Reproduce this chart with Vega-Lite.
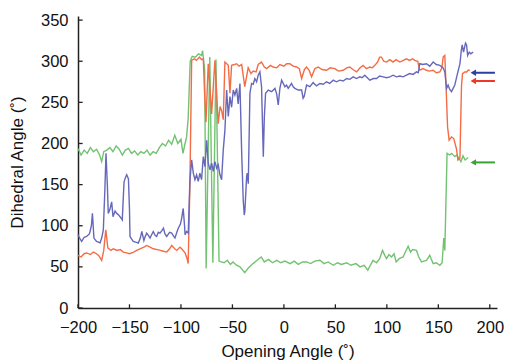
{
  "$schema": "https://vega.github.io/schema/vega-lite/v6.json",
  "width": 419,
  "height": 292,
  "autosize": "none",
  "padding": {"left": 78, "top": 16, "right": 8, "bottom": 52},
  "background": "white",
  "config": {
    "view": {"stroke": null},
    "font": "Liberation Sans",
    "axis": {
      "grid": false,
      "ticks": false,
      "labelFlush": false,
      "domainColor": "#222222",
      "domainWidth": 1.5,
      "labelFontSize": 16.5,
      "labelColor": "#111111",
      "titleFontSize": 17,
      "titleFontWeight": "normal",
      "titleColor": "#111111"
    }
  },
  "datasets": {
    "lines": [
      {"s": "green", "x": -200, "y": 194}, {"s": "green", "x": -197, "y": 186}, {"s": "green", "x": -194, "y": 192}, {"s": "green", "x": -191, "y": 188}, {"s": "green", "x": -188, "y": 195}, {"s": "green", "x": -185, "y": 190}, {"s": "green", "x": -182, "y": 193}, {"s": "green", "x": -179, "y": 186}, {"s": "green", "x": -177, "y": 178}, {"s": "green", "x": -175, "y": 190}, {"s": "green", "x": -172, "y": 192}, {"s": "green", "x": -169, "y": 195}, {"s": "green", "x": -166, "y": 190}, {"s": "green", "x": -163, "y": 197}, {"s": "green", "x": -160, "y": 193}, {"s": "green", "x": -157, "y": 186}, {"s": "green", "x": -154, "y": 192}, {"s": "green", "x": -151, "y": 194}, {"s": "green", "x": -148, "y": 188}, {"s": "green", "x": -145, "y": 191}, {"s": "green", "x": -142, "y": 186}, {"s": "green", "x": -139, "y": 190}, {"s": "green", "x": -136, "y": 188}, {"s": "green", "x": -133, "y": 192}, {"s": "green", "x": -130, "y": 186}, {"s": "green", "x": -127, "y": 190}, {"s": "green", "x": -124, "y": 188}, {"s": "green", "x": -121, "y": 195}, {"s": "green", "x": -118, "y": 200}, {"s": "green", "x": -115, "y": 197}, {"s": "green", "x": -112, "y": 204}, {"s": "green", "x": -109, "y": 199}, {"s": "green", "x": -106, "y": 210}, {"s": "green", "x": -103, "y": 200}, {"s": "green", "x": -100, "y": 205}, {"s": "green", "x": -98, "y": 188}, {"s": "green", "x": -96, "y": 200}, {"s": "green", "x": -94.5, "y": 208}, {"s": "green", "x": -93, "y": 230}, {"s": "green", "x": -91, "y": 300}, {"s": "green", "x": -89, "y": 306}, {"s": "green", "x": -86, "y": 305}, {"s": "green", "x": -83, "y": 309}, {"s": "green", "x": -80, "y": 307}, {"s": "green", "x": -79, "y": 313}, {"s": "green", "x": -77, "y": 290}, {"s": "green", "x": -75.5, "y": 48}, {"s": "green", "x": -72, "y": 305}, {"s": "green", "x": -69, "y": 55}, {"s": "green", "x": -66, "y": 302}, {"s": "green", "x": -63, "y": 57}, {"s": "green", "x": -61, "y": 56}, {"s": "green", "x": -58, "y": 55}, {"s": "green", "x": -55, "y": 58}, {"s": "green", "x": -52, "y": 53}, {"s": "green", "x": -49.5, "y": 56}, {"s": "green", "x": -46, "y": 52}, {"s": "green", "x": -42.7, "y": 50}, {"s": "green", "x": -38, "y": 43}, {"s": "green", "x": -35, "y": 48}, {"s": "green", "x": -30, "y": 54}, {"s": "green", "x": -26, "y": 58}, {"s": "green", "x": -22, "y": 62}, {"s": "green", "x": -19, "y": 56}, {"s": "green", "x": -15, "y": 59}, {"s": "green", "x": -11, "y": 55}, {"s": "green", "x": -7, "y": 58}, {"s": "green", "x": -3, "y": 55}, {"s": "green", "x": 1, "y": 57}, {"s": "green", "x": 6, "y": 54}, {"s": "green", "x": 10, "y": 57}, {"s": "green", "x": 14, "y": 53}, {"s": "green", "x": 18, "y": 56}, {"s": "green", "x": 22, "y": 56}, {"s": "green", "x": 26, "y": 54}, {"s": "green", "x": 30, "y": 57}, {"s": "green", "x": 35, "y": 58}, {"s": "green", "x": 39, "y": 54}, {"s": "green", "x": 43, "y": 56}, {"s": "green", "x": 48, "y": 52}, {"s": "green", "x": 52, "y": 55}, {"s": "green", "x": 56, "y": 53}, {"s": "green", "x": 61, "y": 55}, {"s": "green", "x": 65, "y": 52}, {"s": "green", "x": 70, "y": 54}, {"s": "green", "x": 74, "y": 50}, {"s": "green", "x": 78, "y": 52}, {"s": "green", "x": 81.5, "y": 46}, {"s": "green", "x": 84, "y": 52}, {"s": "green", "x": 86.6, "y": 58}, {"s": "green", "x": 90, "y": 55}, {"s": "green", "x": 93, "y": 60}, {"s": "green", "x": 95.8, "y": 70}, {"s": "green", "x": 98, "y": 64}, {"s": "green", "x": 99.7, "y": 60}, {"s": "green", "x": 102, "y": 65}, {"s": "green", "x": 104.5, "y": 62}, {"s": "green", "x": 107, "y": 66}, {"s": "green", "x": 109, "y": 56}, {"s": "green", "x": 112, "y": 60}, {"s": "green", "x": 115.8, "y": 62}, {"s": "green", "x": 118, "y": 68}, {"s": "green", "x": 120.7, "y": 75}, {"s": "green", "x": 123, "y": 68}, {"s": "green", "x": 125, "y": 71}, {"s": "green", "x": 128.8, "y": 70}, {"s": "green", "x": 131, "y": 62}, {"s": "green", "x": 133.7, "y": 56}, {"s": "green", "x": 136, "y": 57}, {"s": "green", "x": 138.5, "y": 58}, {"s": "green", "x": 141.7, "y": 64}, {"s": "green", "x": 143, "y": 60}, {"s": "green", "x": 145, "y": 54}, {"s": "green", "x": 148, "y": 55}, {"s": "green", "x": 151.5, "y": 52}, {"s": "green", "x": 153.7, "y": 55}, {"s": "green", "x": 155.3, "y": 85}, {"s": "green", "x": 156.3, "y": 70}, {"s": "green", "x": 158.5, "y": 188}, {"s": "green", "x": 161, "y": 186}, {"s": "green", "x": 163, "y": 188}, {"s": "green", "x": 166, "y": 184}, {"s": "green", "x": 168, "y": 186}, {"s": "green", "x": 170, "y": 182}, {"s": "green", "x": 172, "y": 178}, {"s": "green", "x": 174, "y": 185}, {"s": "green", "x": 176, "y": 180}, {"s": "green", "x": 179, "y": 183},

      {"s": "red", "x": -200, "y": 64}, {"s": "red", "x": -197, "y": 62}, {"s": "red", "x": -194, "y": 66}, {"s": "red", "x": -191.6, "y": 67}, {"s": "red", "x": -188, "y": 65}, {"s": "red", "x": -185, "y": 68}, {"s": "red", "x": -182, "y": 66}, {"s": "red", "x": -180, "y": 64}, {"s": "red", "x": -178, "y": 60}, {"s": "red", "x": -177, "y": 58}, {"s": "red", "x": -175, "y": 70}, {"s": "red", "x": -173, "y": 95}, {"s": "red", "x": -171, "y": 73}, {"s": "red", "x": -168, "y": 70}, {"s": "red", "x": -165.7, "y": 72}, {"s": "red", "x": -162, "y": 70}, {"s": "red", "x": -159, "y": 71}, {"s": "red", "x": -156, "y": 68}, {"s": "red", "x": -152.7, "y": 67}, {"s": "red", "x": -150, "y": 66}, {"s": "red", "x": -146, "y": 68}, {"s": "red", "x": -143, "y": 70}, {"s": "red", "x": -139.8, "y": 72}, {"s": "red", "x": -136, "y": 74}, {"s": "red", "x": -133.3, "y": 76}, {"s": "red", "x": -130, "y": 74}, {"s": "red", "x": -126.9, "y": 72}, {"s": "red", "x": -123, "y": 71}, {"s": "red", "x": -120, "y": 70}, {"s": "red", "x": -117, "y": 69}, {"s": "red", "x": -113.9, "y": 68}, {"s": "red", "x": -111, "y": 72}, {"s": "red", "x": -109, "y": 76}, {"s": "red", "x": -106, "y": 72}, {"s": "red", "x": -104, "y": 70}, {"s": "red", "x": -101, "y": 74}, {"s": "red", "x": -99.3, "y": 72}, {"s": "red", "x": -96, "y": 67}, {"s": "red", "x": -94, "y": 60}, {"s": "red", "x": -93, "y": 54}, {"s": "red", "x": -91.3, "y": 150}, {"s": "red", "x": -89.6, "y": 301}, {"s": "red", "x": -87, "y": 303}, {"s": "red", "x": -85, "y": 301}, {"s": "red", "x": -82, "y": 305}, {"s": "red", "x": -80, "y": 302}, {"s": "red", "x": -78.3, "y": 303}, {"s": "red", "x": -77, "y": 260}, {"s": "red", "x": -75.7, "y": 226}, {"s": "red", "x": -73.5, "y": 297}, {"s": "red", "x": -70.2, "y": 236}, {"s": "red", "x": -67, "y": 301}, {"s": "red", "x": -63.8, "y": 224}, {"s": "red", "x": -62, "y": 245}, {"s": "red", "x": -60.5, "y": 240}, {"s": "red", "x": -58.9, "y": 229}, {"s": "red", "x": -57.3, "y": 299}, {"s": "red", "x": -54, "y": 295}, {"s": "red", "x": -52.4, "y": 261}, {"s": "red", "x": -50.8, "y": 295}, {"s": "red", "x": -48, "y": 296}, {"s": "red", "x": -46, "y": 297}, {"s": "red", "x": -43.5, "y": 294}, {"s": "red", "x": -41, "y": 296}, {"s": "red", "x": -38, "y": 269}, {"s": "red", "x": -34.7, "y": 292}, {"s": "red", "x": -32, "y": 285}, {"s": "red", "x": -29.8, "y": 288}, {"s": "red", "x": -27, "y": 287}, {"s": "red", "x": -25, "y": 296}, {"s": "red", "x": -21.7, "y": 299}, {"s": "red", "x": -19, "y": 293}, {"s": "red", "x": -16.8, "y": 291}, {"s": "red", "x": -13, "y": 295}, {"s": "red", "x": -10.4, "y": 293}, {"s": "red", "x": -7, "y": 292}, {"s": "red", "x": -3.9, "y": 296}, {"s": "red", "x": 0, "y": 294}, {"s": "red", "x": 2.6, "y": 297}, {"s": "red", "x": 5.8, "y": 297}, {"s": "red", "x": 9, "y": 294}, {"s": "red", "x": 12.3, "y": 293}, {"s": "red", "x": 15, "y": 291}, {"s": "red", "x": 17.2, "y": 279}, {"s": "red", "x": 20, "y": 290}, {"s": "red", "x": 22, "y": 293}, {"s": "red", "x": 24.5, "y": 289}, {"s": "red", "x": 26.9, "y": 281}, {"s": "red", "x": 30, "y": 291}, {"s": "red", "x": 33.3, "y": 293}, {"s": "red", "x": 37, "y": 290}, {"s": "red", "x": 41.4, "y": 289}, {"s": "red", "x": 45, "y": 292}, {"s": "red", "x": 49.5, "y": 291}, {"s": "red", "x": 53, "y": 288}, {"s": "red", "x": 57.6, "y": 289}, {"s": "red", "x": 61, "y": 292}, {"s": "red", "x": 64, "y": 293}, {"s": "red", "x": 67, "y": 290}, {"s": "red", "x": 70.6, "y": 287}, {"s": "red", "x": 74, "y": 292}, {"s": "red", "x": 77, "y": 295}, {"s": "red", "x": 80, "y": 291}, {"s": "red", "x": 83.5, "y": 293}, {"s": "red", "x": 86, "y": 292}, {"s": "red", "x": 88.3, "y": 295}, {"s": "red", "x": 91, "y": 299}, {"s": "red", "x": 93, "y": 305}, {"s": "red", "x": 94.8, "y": 305}, {"s": "red", "x": 97, "y": 300}, {"s": "red", "x": 99.7, "y": 299}, {"s": "red", "x": 103, "y": 302}, {"s": "red", "x": 106, "y": 299}, {"s": "red", "x": 109, "y": 302}, {"s": "red", "x": 112.6, "y": 299}, {"s": "red", "x": 116, "y": 301}, {"s": "red", "x": 119, "y": 303}, {"s": "red", "x": 122, "y": 301}, {"s": "red", "x": 125, "y": 303}, {"s": "red", "x": 127, "y": 301}, {"s": "red", "x": 130, "y": 300}, {"s": "red", "x": 132, "y": 289}, {"s": "red", "x": 135, "y": 291}, {"s": "red", "x": 138.5, "y": 289}, {"s": "red", "x": 141, "y": 288}, {"s": "red", "x": 145, "y": 289}, {"s": "red", "x": 148, "y": 286}, {"s": "red", "x": 151.5, "y": 287}, {"s": "red", "x": 153.5, "y": 292}, {"s": "red", "x": 154.7, "y": 305}, {"s": "red", "x": 156.3, "y": 307}, {"s": "red", "x": 157.5, "y": 270}, {"s": "red", "x": 159, "y": 220}, {"s": "red", "x": 160.5, "y": 204}, {"s": "red", "x": 162.8, "y": 208}, {"s": "red", "x": 165, "y": 206}, {"s": "red", "x": 167.7, "y": 193}, {"s": "red", "x": 169, "y": 180}, {"s": "red", "x": 171, "y": 182}, {"s": "red", "x": 172.5, "y": 270}, {"s": "red", "x": 173.5, "y": 285}, {"s": "red", "x": 175.7, "y": 287}, {"s": "red", "x": 177.4, "y": 287}, {"s": "red", "x": 179, "y": 289}, {"s": "red", "x": 180.6, "y": 289},

      {"s": "blue", "x": -200, "y": 89}, {"s": "blue", "x": -198, "y": 84}, {"s": "blue", "x": -196.4, "y": 81}, {"s": "blue", "x": -194, "y": 86}, {"s": "blue", "x": -191.6, "y": 87}, {"s": "blue", "x": -189, "y": 90}, {"s": "blue", "x": -188.3, "y": 93}, {"s": "blue", "x": -187, "y": 100}, {"s": "blue", "x": -186, "y": 115}, {"s": "blue", "x": -184.5, "y": 85}, {"s": "blue", "x": -182, "y": 81}, {"s": "blue", "x": -180, "y": 80}, {"s": "blue", "x": -178.6, "y": 79}, {"s": "blue", "x": -177, "y": 85}, {"s": "blue", "x": -175.4, "y": 95}, {"s": "blue", "x": -174, "y": 140}, {"s": "blue", "x": -172.8, "y": 188}, {"s": "blue", "x": -171.5, "y": 150}, {"s": "blue", "x": -170.6, "y": 115}, {"s": "blue", "x": -169, "y": 120}, {"s": "blue", "x": -167.3, "y": 129}, {"s": "blue", "x": -166, "y": 111}, {"s": "blue", "x": -164, "y": 118}, {"s": "blue", "x": -162.4, "y": 115}, {"s": "blue", "x": -160.5, "y": 113}, {"s": "blue", "x": -159.2, "y": 111}, {"s": "blue", "x": -157, "y": 107}, {"s": "blue", "x": -155.3, "y": 153}, {"s": "blue", "x": -153.5, "y": 160}, {"s": "blue", "x": -152.7, "y": 162}, {"s": "blue", "x": -151, "y": 157}, {"s": "blue", "x": -150, "y": 120}, {"s": "blue", "x": -149.5, "y": 87}, {"s": "blue", "x": -148, "y": 84}, {"s": "blue", "x": -146.3, "y": 81}, {"s": "blue", "x": -144, "y": 80}, {"s": "blue", "x": -141.4, "y": 79}, {"s": "blue", "x": -139.5, "y": 85}, {"s": "blue", "x": -138, "y": 93}, {"s": "blue", "x": -136, "y": 82}, {"s": "blue", "x": -135, "y": 86}, {"s": "blue", "x": -133.3, "y": 91}, {"s": "blue", "x": -131.5, "y": 88}, {"s": "blue", "x": -130, "y": 85}, {"s": "blue", "x": -128.5, "y": 89}, {"s": "blue", "x": -126.9, "y": 93}, {"s": "blue", "x": -125, "y": 88}, {"s": "blue", "x": -123.6, "y": 87}, {"s": "blue", "x": -122, "y": 92}, {"s": "blue", "x": -120.4, "y": 91}, {"s": "blue", "x": -118.5, "y": 94}, {"s": "blue", "x": -117, "y": 97}, {"s": "blue", "x": -115.5, "y": 90}, {"s": "blue", "x": -113.9, "y": 87}, {"s": "blue", "x": -111, "y": 92}, {"s": "blue", "x": -109, "y": 91}, {"s": "blue", "x": -107, "y": 87}, {"s": "blue", "x": -105.8, "y": 85}, {"s": "blue", "x": -104, "y": 92}, {"s": "blue", "x": -102.6, "y": 97}, {"s": "blue", "x": -100.5, "y": 102}, {"s": "blue", "x": -99.3, "y": 109}, {"s": "blue", "x": -97.8, "y": 121}, {"s": "blue", "x": -96.5, "y": 100}, {"s": "blue", "x": -96, "y": 89}, {"s": "blue", "x": -94.5, "y": 93}, {"s": "blue", "x": -92.9, "y": 91}, {"s": "blue", "x": -91.3, "y": 155}, {"s": "blue", "x": -89.6, "y": 180}, {"s": "blue", "x": -88, "y": 164}, {"s": "blue", "x": -86.4, "y": 156}, {"s": "blue", "x": -84.8, "y": 162}, {"s": "blue", "x": -83.2, "y": 154}, {"s": "blue", "x": -81.6, "y": 164}, {"s": "blue", "x": -80, "y": 156}, {"s": "blue", "x": -78.3, "y": 184}, {"s": "blue", "x": -76.7, "y": 172}, {"s": "blue", "x": -75, "y": 204}, {"s": "blue", "x": -73.5, "y": 176}, {"s": "blue", "x": -71.8, "y": 168}, {"s": "blue", "x": -70.2, "y": 176}, {"s": "blue", "x": -68.6, "y": 166}, {"s": "blue", "x": -67, "y": 178}, {"s": "blue", "x": -65.3, "y": 170}, {"s": "blue", "x": -63.8, "y": 174}, {"s": "blue", "x": -62.1, "y": 162}, {"s": "blue", "x": -60.5, "y": 156}, {"s": "blue", "x": -58.9, "y": 192}, {"s": "blue", "x": -57.3, "y": 216}, {"s": "blue", "x": -55.6, "y": 265}, {"s": "blue", "x": -54, "y": 233}, {"s": "blue", "x": -52.4, "y": 257}, {"s": "blue", "x": -50.8, "y": 244}, {"s": "blue", "x": -49.2, "y": 265}, {"s": "blue", "x": -47.6, "y": 259}, {"s": "blue", "x": -45.9, "y": 267}, {"s": "blue", "x": -44.4, "y": 248}, {"s": "blue", "x": -42.7, "y": 273}, {"s": "blue", "x": -41, "y": 188}, {"s": "blue", "x": -39.5, "y": 131}, {"s": "blue", "x": -38.5, "y": 113}, {"s": "blue", "x": -37.9, "y": 118}, {"s": "blue", "x": -36.2, "y": 160}, {"s": "blue", "x": -35.6, "y": 164}, {"s": "blue", "x": -34.6, "y": 151}, {"s": "blue", "x": -33, "y": 261}, {"s": "blue", "x": -31.4, "y": 273}, {"s": "blue", "x": -29.8, "y": 272}, {"s": "blue", "x": -28.2, "y": 279}, {"s": "blue", "x": -26.5, "y": 275}, {"s": "blue", "x": -25, "y": 283}, {"s": "blue", "x": -23.3, "y": 287}, {"s": "blue", "x": -21.7, "y": 269}, {"s": "blue", "x": -20, "y": 184}, {"s": "blue", "x": -19, "y": 232}, {"s": "blue", "x": -17.8, "y": 261}, {"s": "blue", "x": -15.2, "y": 265}, {"s": "blue", "x": -11.9, "y": 263}, {"s": "blue", "x": -8.7, "y": 267}, {"s": "blue", "x": -7, "y": 260}, {"s": "blue", "x": -5.5, "y": 247}, {"s": "blue", "x": -3.9, "y": 267}, {"s": "blue", "x": -2.2, "y": 277}, {"s": "blue", "x": 1, "y": 269}, {"s": "blue", "x": 2.6, "y": 271}, {"s": "blue", "x": 4.2, "y": 267}, {"s": "blue", "x": 7.4, "y": 273}, {"s": "blue", "x": 9, "y": 269}, {"s": "blue", "x": 10.7, "y": 267}, {"s": "blue", "x": 13.9, "y": 265}, {"s": "blue", "x": 17.2, "y": 265}, {"s": "blue", "x": 18.7, "y": 255}, {"s": "blue", "x": 19.7, "y": 257}, {"s": "blue", "x": 22, "y": 271}, {"s": "blue", "x": 25.2, "y": 269}, {"s": "blue", "x": 28.4, "y": 274}, {"s": "blue", "x": 31.7, "y": 270}, {"s": "blue", "x": 35, "y": 273}, {"s": "blue", "x": 38.2, "y": 272}, {"s": "blue", "x": 41.4, "y": 275}, {"s": "blue", "x": 44.5, "y": 273}, {"s": "blue", "x": 47.9, "y": 277}, {"s": "blue", "x": 51, "y": 275}, {"s": "blue", "x": 54.4, "y": 277}, {"s": "blue", "x": 57.6, "y": 276}, {"s": "blue", "x": 60.9, "y": 279}, {"s": "blue", "x": 64, "y": 278}, {"s": "blue", "x": 67.3, "y": 281}, {"s": "blue", "x": 70.5, "y": 279}, {"s": "blue", "x": 73.8, "y": 281}, {"s": "blue", "x": 76, "y": 280}, {"s": "blue", "x": 78.6, "y": 283}, {"s": "blue", "x": 81, "y": 280}, {"s": "blue", "x": 83.5, "y": 277}, {"s": "blue", "x": 87, "y": 279}, {"s": "blue", "x": 90, "y": 279}, {"s": "blue", "x": 93, "y": 282}, {"s": "blue", "x": 96.4, "y": 281}, {"s": "blue", "x": 99.7, "y": 280}, {"s": "blue", "x": 103, "y": 281}, {"s": "blue", "x": 106, "y": 283}, {"s": "blue", "x": 109.4, "y": 281}, {"s": "blue", "x": 112.6, "y": 282}, {"s": "blue", "x": 115.8, "y": 281}, {"s": "blue", "x": 119, "y": 283}, {"s": "blue", "x": 122.3, "y": 285}, {"s": "blue", "x": 125.5, "y": 284}, {"s": "blue", "x": 128.8, "y": 287}, {"s": "blue", "x": 130.5, "y": 286}, {"s": "blue", "x": 132, "y": 297}, {"s": "blue", "x": 135, "y": 296}, {"s": "blue", "x": 138.5, "y": 297}, {"s": "blue", "x": 141.7, "y": 294}, {"s": "blue", "x": 145, "y": 299}, {"s": "blue", "x": 148, "y": 296}, {"s": "blue", "x": 151.5, "y": 295}, {"s": "blue", "x": 154.7, "y": 292}, {"s": "blue", "x": 156.3, "y": 287}, {"s": "blue", "x": 158, "y": 267}, {"s": "blue", "x": 159.5, "y": 271}, {"s": "blue", "x": 161, "y": 266}, {"s": "blue", "x": 162.8, "y": 263}, {"s": "blue", "x": 164.4, "y": 267}, {"s": "blue", "x": 166, "y": 271}, {"s": "blue", "x": 168.6, "y": 285}, {"s": "blue", "x": 171, "y": 297}, {"s": "blue", "x": 172.3, "y": 313}, {"s": "blue", "x": 173.2, "y": 320}, {"s": "blue", "x": 174.5, "y": 311}, {"s": "blue", "x": 176.4, "y": 322}, {"s": "blue", "x": 177.4, "y": 320}, {"s": "blue", "x": 178.5, "y": 307}, {"s": "blue", "x": 180, "y": 311}, {"s": "blue", "x": 181.5, "y": 309}, {"s": "blue", "x": 183.8, "y": 311}
    ],
    "arrows": [
      {"s": "blue arrow", "x": 184, "x2": 205, "y": 286},
      {"s": "red arrow", "x": 184, "x2": 205, "y": 276},
      {"s": "green arrow", "x": 184, "x2": 205, "y": 177}
    ],
    "xticks": [{"v": -200}, {"v": -150}, {"v": -100}, {"v": -50}, {"v": 0}, {"v": 50}, {"v": 100}, {"v": 150}, {"v": 200}],
    "yticks": [{"v": 0}, {"v": 50}, {"v": 100}, {"v": 150}, {"v": 200}, {"v": 250}, {"v": 300}, {"v": 350}]
  },
  "layer": [
    {
      "data": {"name": "lines"},
      "mark": {"type": "line", "strokeWidth": 1.4, "interpolate": "linear"},
      "encoding": {
        "x": {
          "field": "x", "type": "quantitative",
          "scale": {"domain": [-200, 207], "nice": false, "zero": false},
          "axis": {"values": [-200, -150, -100, -50, 0, 50, 100, 150, 200], "title": "Opening Angle (˚)", "labelPadding": 11, "titlePadding": 8}
        },
        "y": {
          "field": "y", "type": "quantitative",
          "scale": {"domain": [0, 355], "nice": false},
          "axis": {"values": [0, 50, 100, 150, 200, 250, 300, 350], "title": "Dihedral Angle (˚)", "labelPadding": 10, "titlePadding": 14}
        },
        "color": {
          "field": "s", "type": "nominal",
          "scale": {"domain": ["blue", "red", "green", "blue arrow", "red arrow", "green arrow"], "range": ["#6668bb", "#f36c46", "#72c272", "#2e3f9e", "#ea3a26", "#35a535"]},
          "legend": null
        },
        "detail": {"field": "s"}
      }
    },
    {
      "data": {"name": "xticks"},
      "mark": {"type": "rule", "color": "#222222", "strokeWidth": 1.3},
      "encoding": {
        "x": {"field": "v", "type": "quantitative"},
        "y": {"datum": 0},
        "y2": {"datum": 4.5}
      }
    },
    {
      "data": {"name": "yticks"},
      "mark": {"type": "rule", "color": "#222222", "strokeWidth": 1.3},
      "encoding": {
        "y": {"field": "v", "type": "quantitative"},
        "x": {"datum": -200},
        "x2": {"datum": -195.5}
      }
    },
    {
      "data": {"name": "arrows"},
      "mark": {"type": "rule", "strokeWidth": 2},
      "encoding": {
        "x": {"field": "x", "type": "quantitative"},
        "x2": {"field": "x2"},
        "y": {"field": "y", "type": "quantitative"},
        "color": {"field": "s", "type": "nominal", "legend": null}
      }
    },
    {
      "data": {"name": "arrows"},
      "mark": {"type": "point", "shape": "triangle-left", "filled": true, "size": 40, "opacity": 1},
      "encoding": {
        "x": {"field": "x", "type": "quantitative"},
        "y": {"field": "y", "type": "quantitative"},
        "color": {"field": "s", "type": "nominal", "legend": null}
      }
    }
  ]
}
